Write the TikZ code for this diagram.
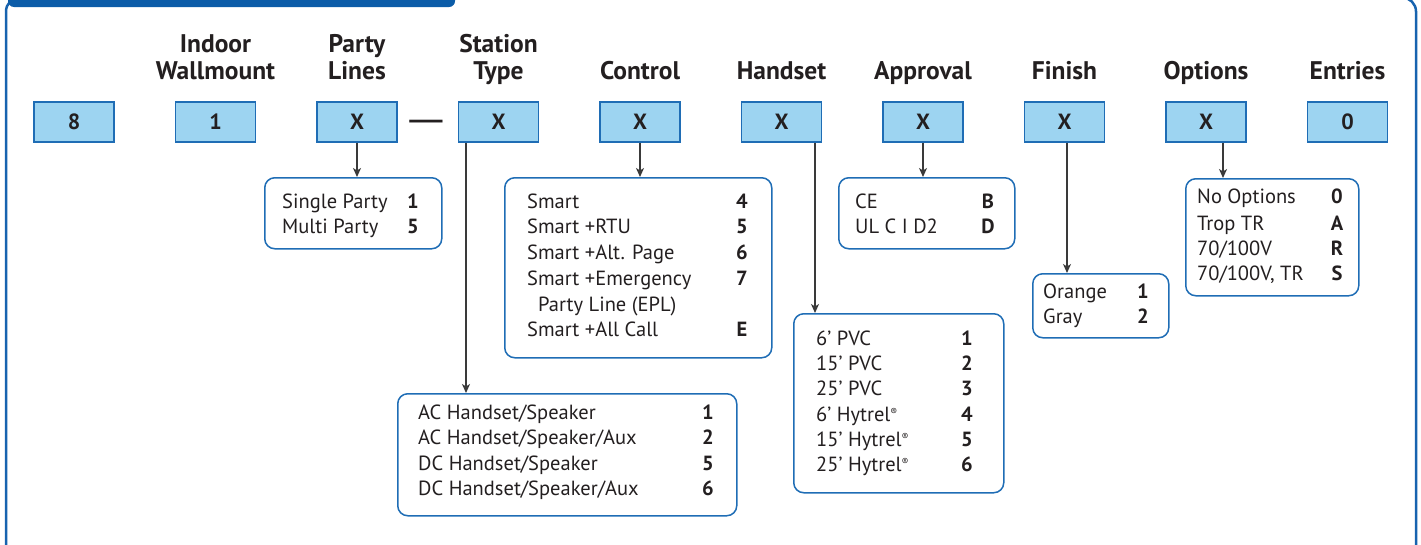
\documentclass[tikz,border=0pt]{standalone}
\usepackage{fontspec}
\setmainfont{PT Sans}
\usepackage{tikz}
\usetikzlibrary{arrows.meta}
\definecolor{tabcol}{HTML}{0B5CA8}
\definecolor{framecol}{HTML}{1763AF}
\definecolor{boxfill}{HTML}{9DD4F1}
\definecolor{boxline}{HTML}{1F6DB5}
\definecolor{ink}{HTML}{231F20}
\definecolor{wire}{HTML}{3A3A3A}
\newcommand{\reg}{{\fontsize{10}{10}\selectfont\raisebox{6pt}{®}}}
\tikzstyle{code}=[draw=boxline, fill=boxfill, line width=1.2pt, minimum width=80pt, minimum height=40pt, inner sep=0pt, font=\fontsize{22}{24}\selectfont\bfseries, text=ink]
\tikzstyle{head}=[align=center, inner sep=0pt, font=\fontsize{25.5}{27}\selectfont\bfseries, text=ink]
\tikzstyle{opts}=[draw=boxline, rounded corners=10pt, line width=1.5pt, anchor=north west, inner sep=0pt]
\tikzstyle{item}=[anchor=base west, inner sep=0pt, font=\fontsize{20.5}{24}\selectfont, text=ink]
\tikzstyle{num}=[anchor=base, inner sep=0pt, font=\fontsize{20.5}{24}\selectfont\bfseries, text=ink]
\tikzstyle{arr}=[->, draw=wire, line width=1.4pt]

\begin{document}
\begin{tikzpicture}[x=1pt, y=-1pt, >={Stealth[length=9pt,width=8pt,inset=2.5pt]}]
\useasboundingbox (0,0) rectangle (1421,544);
\clip (0,0) rectangle (1421,544);
\draw[framecol, line width=2.5pt, rounded corners=14pt] (6,-2.5) rectangle (1416,580);
\fill[tabcol, rounded corners=6pt] (8,-12) rectangle (455,7);
\foreach \n/\x/\c in {0/74/8, 1/215.5/1, 2/357/X, 3/498.5/X, 4/640/X, 5/781.5/X, 6/923/X, 7/1064.5/X, 8/1206/X, 9/1347.5/0}
  \node[code] (c\n) at (\x,122) {\c};
\foreach \n/\x/\t in {1/215.5/{Indoor\\Wallmount}, 2/357/{Party\\Lines}, 3/498.5/{Station\\Type}, 4/640/Control, 5/781.5/Handset, 6/923/Approval, 7/1064.5/Finish, 8/1206/Options, 9/1347.5/Entries}
  \node[head, anchor=base] (h\n) at (\x,79) {\t};
\node[inner sep=0pt, font=\fontsize{24}{24}\selectfont\bfseries, text=ink] (dash) at (426,124) {\scalebox{2.3}[1]{—}};

\node[opts, minimum width=177pt, minimum height=71pt] (plo) at (264,177) {};
\node[opts, minimum width=267pt, minimum height=180pt] (cto) at (504,177) {};
\node[opts, minimum width=339pt, minimum height=122pt] (sto) at (397,393) {};
\node[opts, minimum width=210pt, minimum height=179pt] (hso) at (793,313) {};
\node[opts, minimum width=176pt, minimum height=71pt] (apo) at (838,177) {};
\node[opts, minimum width=136pt, minimum height=64pt] (fio) at (1032,273) {};
\node[opts, minimum width=173pt, minimum height=117pt] (opo) at (1185,178) {};

\foreach \t/\c/\y in {{Single Party}/1/208, {Multi Party}/5/233}
  {\node[item] at (282,\y) {\t}; \node[num] at (413,\y) {\c};}
\foreach \t/\c/\y in {Smart/4/208, {Smart +RTU}/5/233, {Smart +Alt. Page}/6/259, {Smart +Emergency}/7/285, {Smart +All Call}/E/336}
  {\node[item] at (527,\y) {\t}; \node[num] at (742,\y) {\c};}
\node[item] at (538,311) {Party Line (EPL)};
\foreach \t/\c/\y in {{AC Handset/Speaker}/1/419, {AC Handset/Speaker/Aux}/2/444, {DC Handset/Speaker}/5/470, {DC Handset/Speaker/Aux}/6/495}
  {\node[item] at (418,\y) {\t}; \node[num] at (708,\y) {\c};}
\foreach \t/\c/\y in {{6’ PVC}/1/345, {15’ PVC}/2/370, {25’ PVC}/3/395, {6’ Hytrel\reg}/4/421, {15’ Hytrel\reg}/5/446, {25’ Hytrel\reg}/6/471}
  {\node[item] at (816,\y) {\t}; \node[num] at (967,\y) {\c};}
\foreach \t/\c/\y in {CE/B/208, {UL C I D2}/D/233}
  {\node[item] at (855,\y) {\t}; \node[num] at (988,\y) {\c};}
\foreach \t/\c/\y in {Orange/1/298, Gray/2/323}
  {\node[item] at (1043,\y) {\t}; \node[num] at (1143,\y) {\c};}
\foreach \t/\c/\y in {{No Options}/0/203, {Trop TR}/A/230, {70/100V}/R/255, {70/100V, TR}/S/280}
  {\node[item] at (1197,\y) {\t}; \node[num] at (1337,\y) {\c};}

\coordinate (a3) at ([xshift=-32.5pt]c3.south);
\coordinate (a5) at ([xshift=33.5pt]c5.south);
\coordinate (a7) at ([xshift=2.5pt]c7.south);
\coordinate (a8) at ([xshift=17pt]c8.south);
\draw[arr] (c2.south) -- (c2.south |- plo.north);
\draw[arr] (a3) -- (a3 |- sto.north);
\draw[arr] (c4.south) -- (c4.south |- cto.north);
\draw[arr] (a5) -- (a5 |- hso.north);
\draw[arr] (c6.south) -- (c6.south |- apo.north);
\draw[arr] (a7) -- (a7 |- fio.north);
\draw[arr] (a8) -- (a8 |- opo.north);
\end{tikzpicture}
\end{document}
